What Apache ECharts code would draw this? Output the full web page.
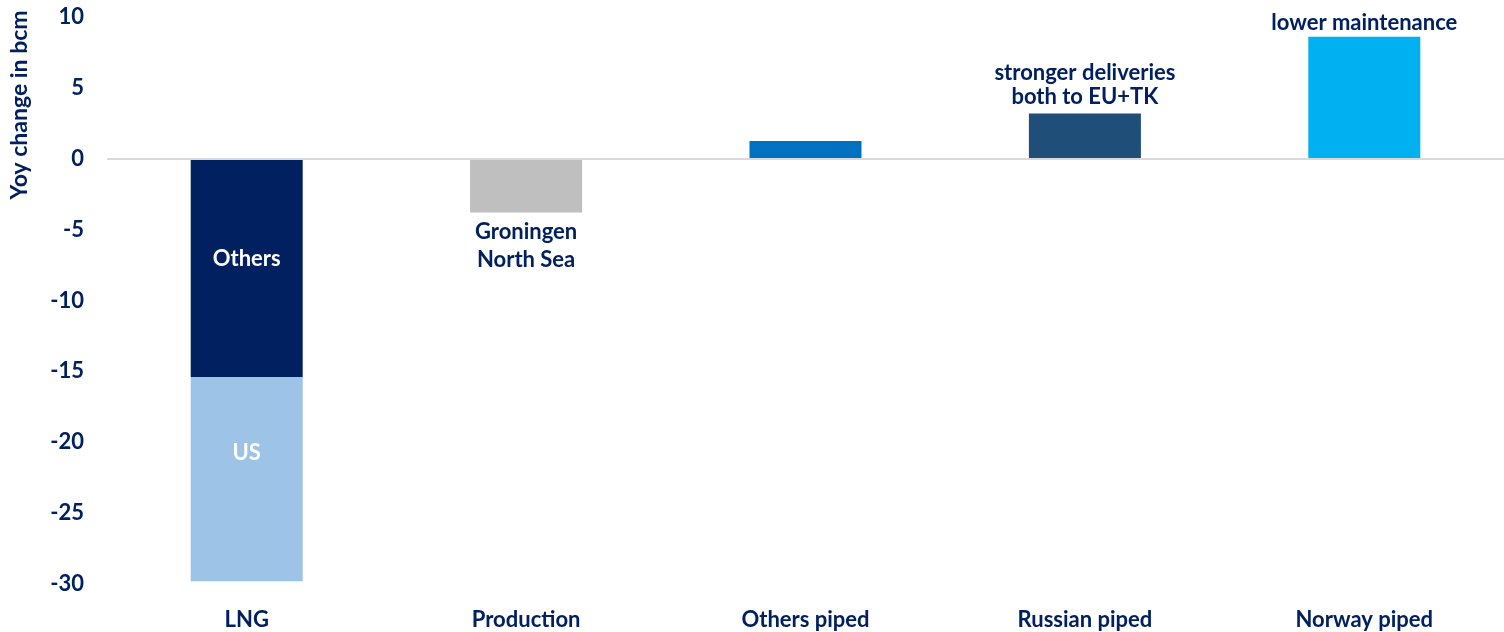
<!DOCTYPE html>
<html>
<head>
<meta charset="utf-8">
<script src="https://cdn.jsdelivr.net/npm/echarts@6/dist/echarts.min.js"></script>
<style>
  html, body { margin: 0; padding: 0; background: #ffffff; }
  #chart { width: 1504px; height: 632px; }
</style>
</head>
<body>
<div id="chart"></div>
<script>
// Year-on-year change in gas supply sources (bcm)
const categories = ['LNG', 'Production', 'Others piped', 'Russian piped', 'Norway piped'];
// First stacked segment for each category (LNG: "Others" part)
const mainValues = [-15.4, -3.8, 1.25, 3.2, 8.6];
// Second LNG segment (US)
const usValues = [-14.4, null, null, null, null];
const mainLabels = ['Others', 'Groningen\nNorth Sea', '', 'stronger deliveries\nboth to EU+TK', 'lower maintenance'];
const usLabels = ['US', '', '', '', ''];
const yTicks = { min: -30, max: 10, interval: 5 };

const navy = '#002060';
const barColors = ['#002060', '#BFBFBF', '#0070C0', '#1F4E79', '#00B0F0'];
const usColor = '#9DC3E6';
const fontFamily = 'Lato, "Open Sans", sans-serif';
const fontSize = 22;

const chart = echarts.init(document.getElementById('chart'), null, { renderer: 'canvas' });

const mainData = mainValues.map((v, i) => {
  const item = { value: v, itemStyle: { color: barColors[i] } };
  const text = mainLabels[i];
  if (!text) {
    item.label = { show: false };
  } else if (i === 0) {
    item.label = { show: true, position: 'inside', offset: [0, -9], color: '#ffffff' };
  } else if (v < 0) {
    item.label = { show: true, position: 'bottom', distance: 5, lineHeight: 28, color: navy };
  } else {
    item.label = { show: true, position: 'top', distance: i === 4 ? 2 : 4, lineHeight: 24, color: navy };
  }
  return item;
});

const usData = usValues.map((v, i) => v === null ? '-' : {
  value: v,
  label: { show: !!usLabels[i], position: 'inside', offset: [0, -26], color: '#ffffff' }
});

chart.setOption({
  animation: false,
  backgroundColor: '#ffffff',
  textStyle: { fontFamily: fontFamily },
  grid: { left: 107, right: 0, top: 17, bottom: 48, containLabel: false },
  xAxis: {
    type: 'category',
    data: categories,
    axisLine: { show: false, onZero: false },
    axisTick: { show: false },
    axisLabel: {
      margin: 25,
      color: navy,
      fontWeight: 'bold',
      fontSize: fontSize,
      fontFamily: fontFamily
    },
    splitLine: { show: false }
  },
  yAxis: {
    type: 'value',
    min: yTicks.min,
    max: yTicks.max,
    interval: yTicks.interval,
    axisLine: { show: false },
    axisTick: { show: false },
    splitLine: { show: false },
    axisLabel: {
      margin: 23,
      color: navy,
      fontWeight: 'bold',
      fontSize: fontSize,
      fontFamily: fontFamily
    }
  },
  graphic: [{
    type: 'text',
    x: 20,
    y: 105,
    rotation: Math.PI / 2,
    style: {
      text: 'Yoy change in bcm',
      fill: navy,
      font: 'bold 23px ' + fontFamily,
      align: 'center',
      verticalAlign: 'middle'
    }
  }],
  series: [{
    type: 'bar',
    name: 'main',
    stack: 'total',
    barWidth: 112,
    data: mainData,
    label: {
      fontWeight: 'bold',
      fontSize: fontSize,
      fontFamily: fontFamily,
      formatter: p => mainLabels[p.dataIndex]
    },
    markLine: {
      silent: true,
      symbol: 'none',
      label: { show: false },
      lineStyle: { color: '#D9D9D9', width: 2, type: 'solid' },
      data: [{ yAxis: 0 }]
    }
  }, {
    type: 'bar',
    name: 'US',
    stack: 'total',
    barWidth: 112,
    itemStyle: { color: usColor },
    data: usData,
    label: {
      fontWeight: 'bold',
      fontSize: fontSize,
      fontFamily: fontFamily,
      formatter: p => usLabels[p.dataIndex]
    }
  }]
});
</script>
</body>
</html>
